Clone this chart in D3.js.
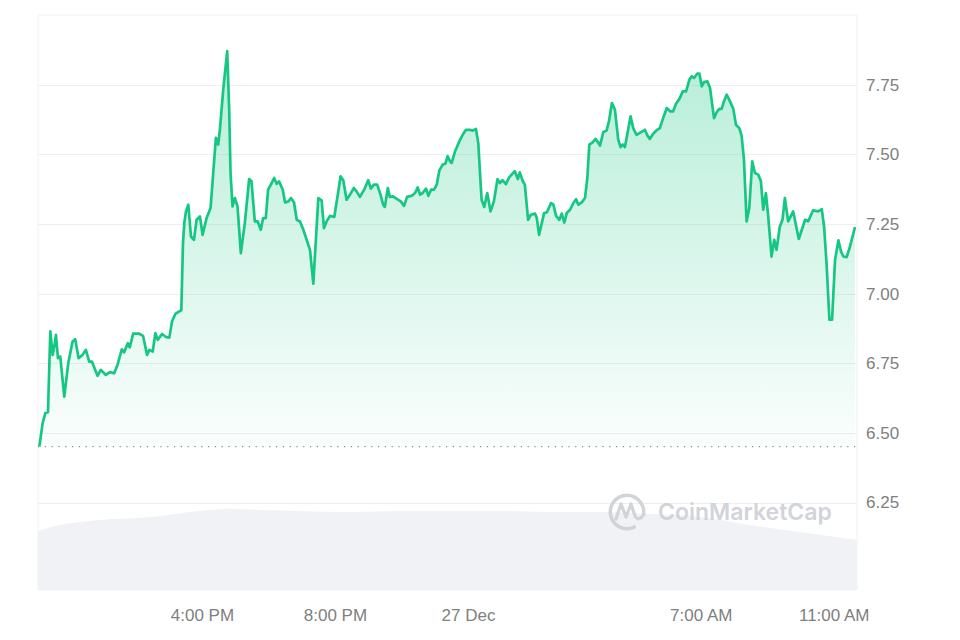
<!DOCTYPE html>
<html>
<head>
<meta charset="utf-8">
<script src="https://cdn.jsdelivr.net/npm/d3@7"></script>
<style>
  html, body { margin: 0; padding: 0; background: #fff; }
  #chart { width: 960px; height: 640px; }
</style>
</head>
<body>
<div id="chart"></div>
<script>
// hours after 26 Dec 00:00, and price in USD
const priceHours = [
    11.11, 11.21, 11.29, 11.37, 11.44, 11.51, 11.56, 11.61, 11.67, 11.74, 11.86, 11.98,
    12.11, 12.19, 12.29, 12.41, 12.51, 12.61, 12.69, 12.86, 12.96, 13.11, 13.23, 13.36,
    13.46, 13.59, 13.66, 13.77, 13.83, 13.93, 14.11, 14.23, 14.35, 14.42, 14.52, 14.60,
    14.67, 14.80, 14.92, 15.02, 15.10, 15.20, 15.32, 15.38, 15.43, 15.47, 15.52, 15.59,
    15.67, 15.76, 15.84, 15.94, 16.02, 16.14, 16.26, 16.34, 16.42, 16.49, 16.54, 16.64,
    16.76, 16.82, 16.86, 16.92, 16.99, 17.07, 17.17, 17.29, 17.42, 17.49, 17.59, 17.68,
    17.77, 17.84, 17.92, 17.99, 18.10, 18.17, 18.25, 18.32, 18.43, 18.50, 18.60, 18.68,
    18.77, 18.85, 18.95, 19.05, 19.15, 19.25, 19.35, 19.50, 19.60, 19.67, 19.75, 19.85,
    19.98, 20.07, 20.17, 20.25, 20.35, 20.45, 20.57, 20.65, 20.75, 20.88, 21.00, 21.08,
    21.17, 21.27, 21.37, 21.45, 21.50, 21.59, 21.65, 21.75, 21.87, 21.98, 22.08, 22.17,
    22.31, 22.41, 22.49, 22.56, 22.64, 22.74, 22.81, 22.89, 22.98, 23.06, 23.14, 23.24,
    23.32, 23.39, 23.46, 23.51, 23.61, 23.74, 23.86, 23.94, 24.06, 24.14, 24.24, 24.31,
    24.41, 24.49, 24.58, 24.68, 24.78, 24.89, 24.96, 25.04, 25.14, 25.24, 25.36, 25.41,
    25.50, 25.56, 25.65, 25.71, 25.81, 25.89, 26.02, 26.07, 26.14, 26.29, 26.37, 26.50,
    26.57, 26.65, 26.75, 26.82, 26.90, 26.97, 27.07, 27.17, 27.25, 27.32, 27.42, 27.52,
    27.59, 27.65, 27.75, 27.84, 27.92, 27.97, 28.07, 28.17, 28.24, 28.33, 28.42, 28.52,
    28.59, 28.65, 28.72, 28.80, 28.89, 28.97, 29.07, 29.17, 29.32, 29.40, 29.47, 29.57,
    29.69, 29.77, 29.87, 29.98, 30.08, 30.17, 30.26, 30.36, 30.46, 30.56, 30.66, 30.73,
    30.80, 30.90, 30.96, 31.03, 31.10, 31.20, 31.28, 31.40, 31.48, 31.56, 31.63, 31.70,
    31.78, 31.88, 31.98, 32.06, 32.16, 32.23, 32.30, 32.38, 32.46, 32.55, 32.63, 32.73,
    32.81, 32.88, 32.96, 33.03, 33.13, 33.21, 33.28, 33.38, 33.46, 33.53, 33.63, 33.78,
    33.95, 34.04, 34.14, 34.23, 34.38, 34.53, 34.64, 34.71, 34.79, 34.87, 34.95, 35.04,
    35.14, 35.22, 35.29, 35.39, 35.49, 35.64
];
const prices = [
    6.451, 6.535, 6.571, 6.574, 6.864, 6.780, 6.810, 6.852, 6.768, 6.774, 6.630, 6.750,
    6.828, 6.836, 6.768, 6.780, 6.798, 6.756, 6.756, 6.705, 6.726, 6.708, 6.718, 6.714,
    6.744, 6.800, 6.789, 6.822, 6.807, 6.856, 6.856, 6.848, 6.780, 6.798, 6.792, 6.858,
    6.834, 6.855, 6.844, 6.842, 6.900, 6.927, 6.936, 6.940, 7.180, 7.253, 7.295, 7.319,
    7.205, 7.193, 7.265, 7.277, 7.211, 7.271, 7.307, 7.433, 7.559, 7.535, 7.588, 7.732,
    7.870, 7.660, 7.433, 7.313, 7.343, 7.313, 7.145, 7.253, 7.411, 7.403, 7.259, 7.259,
    7.229, 7.271, 7.271, 7.373, 7.397, 7.415, 7.394, 7.403, 7.373, 7.327, 7.331, 7.343,
    7.327, 7.265, 7.259, 7.229, 7.193, 7.157, 7.036, 7.343, 7.335, 7.235, 7.259, 7.279,
    7.275, 7.343, 7.421, 7.407, 7.337, 7.355, 7.379, 7.367, 7.347, 7.373, 7.407, 7.377,
    7.391, 7.391, 7.355, 7.319, 7.311, 7.379, 7.347, 7.349, 7.339, 7.331, 7.315, 7.347,
    7.351, 7.361, 7.381, 7.355, 7.361, 7.377, 7.351, 7.373, 7.373, 7.391, 7.442, 7.463,
    7.466, 7.493, 7.475, 7.469, 7.510, 7.546, 7.574, 7.588, 7.588, 7.585, 7.591, 7.541,
    7.337, 7.311, 7.361, 7.295, 7.331, 7.411, 7.397, 7.407, 7.393, 7.417, 7.433, 7.439,
    7.411, 7.435, 7.403, 7.391, 7.265, 7.283, 7.287, 7.271, 7.211, 7.289, 7.291, 7.325,
    7.319, 7.279, 7.265, 7.287, 7.255, 7.289, 7.301, 7.325, 7.339, 7.319, 7.327, 7.343,
    7.415, 7.535, 7.543, 7.555, 7.541, 7.531, 7.579, 7.586, 7.618, 7.684, 7.660, 7.552,
    7.526, 7.535, 7.526, 7.577, 7.636, 7.594, 7.570, 7.577, 7.588, 7.567, 7.555, 7.574,
    7.588, 7.594, 7.630, 7.666, 7.654, 7.654, 7.682, 7.699, 7.726, 7.726, 7.768, 7.780,
    7.774, 7.790, 7.790, 7.744, 7.759, 7.762, 7.738, 7.630, 7.651, 7.663, 7.663, 7.690,
    7.714, 7.690, 7.663, 7.606, 7.594, 7.566, 7.481, 7.259, 7.307, 7.475, 7.433, 7.427,
    7.403, 7.301, 7.361, 7.277, 7.133, 7.193, 7.157, 7.241, 7.265, 7.343, 7.259, 7.295,
    7.196, 7.229, 7.265, 7.259, 7.299, 7.295, 7.303, 7.241, 7.097, 6.906, 6.906, 7.121,
    7.191, 7.151, 7.133, 7.131, 7.169, 7.239
];

// volume shading at the bottom (arbitrary units)
const volumeHours = [11.07, 11.73, 12.93, 14.44, 15.94, 16.84, 17.74, 18.95, 20.45, 21.95,
    23.46, 24.96, 26.47, 27.97, 29.47, 30.98, 32.48, 33.98, 35.70];
const volumes = [59, 65, 70, 73, 79, 81, 80, 79, 78, 79, 79, 79, 78, 78, 76, 73, 65, 58, 50];

const openPrice = 6.451;
const priceTicks = [6.25, 6.50, 6.75, 7.00, 7.25, 7.50, 7.75];
const timeTickHours = [16, 20, 24, 31, 35];
const timeTickLabels = ["4:00 PM", "8:00 PM", "27 Dec", "7:00 AM", "11:00 AM"];
const startHour = 11.07;
const endHour = 35.70;

const day0 = new Date(2023, 11, 26, 0, 0);
const toDate = h => new Date(day0.getTime() + h * 3600 * 1000);

function drawChart() {
    const width = 960, height = 640;
    const margin = { top: 15, right: 103, bottom: 50, left: 38 };
    const innerWidth = width - margin.left - margin.right;
    const innerHeight = height - margin.top - margin.bottom;

    const svg = d3.select("#chart")
        .append("svg")
        .attr("width", width)
        .attr("height", height);

    const g = svg.append("g")
        .attr("transform", `translate(${margin.left},${margin.top})`);

    const x = d3.scaleTime()
        .domain([toDate(startHour), toDate(endHour)])
        .range([0, innerWidth]);

    const y = d3.scaleLinear()
        .domain([5.936, 8.0])
        .range([innerHeight, 0]);

    const yVol = d3.scaleLinear()
        .domain([0, 90])
        .range([innerHeight, innerHeight - 90]);

    const data = priceHours.map((h, i) => ({ t: toDate(h), v: prices[i] }));
    const volData = volumeHours.map((h, i) => ({ t: toDate(h), v: volumes[i] }));

    // gradient for the price area
    const defs = svg.append("defs");
    const grad = defs.append("linearGradient")
        .attr("id", "priceFill")
        .attr("gradientUnits", "userSpaceOnUse")
        .attr("x1", 0).attr("x2", 0)
        .attr("y1", y(7.9)).attr("y2", y(openPrice));
    grad.append("stop").attr("offset", "0%").attr("stop-color", "#16c784").attr("stop-opacity", 0.32);
    grad.append("stop").attr("offset", "100%").attr("stop-color", "#16c784").attr("stop-opacity", 0.02);

    // frame
    g.append("rect")
        .attr("x", 0).attr("y", 0)
        .attr("width", innerWidth).attr("height", innerHeight)
        .attr("fill", "none")
        .attr("stroke", "#f1f1f1")
        .attr("stroke-width", 1);

    // volume
    g.append("path")
        .datum(volData)
        .attr("fill", "#f0f2f5")
        .attr("d", d3.area()
            .curve(d3.curveMonotoneX)
            .x(d => x(d.t))
            .y0(innerHeight)
            .y1(d => yVol(d.v)));

    // grid
    g.append("g")
        .selectAll("line")
        .data(priceTicks)
        .enter()
        .append("line")
            .attr("x1", 0)
            .attr("x2", innerWidth)
            .attr("y1", d => Math.round(y(d)) + 0.5)
            .attr("y2", d => Math.round(y(d)) + 0.5)
            .attr("stroke", "#efefef")
            .attr("stroke-width", 1);

    // watermark
    const wm = g.append("g")
        .attr("transform", `translate(${627 - margin.left},${512 - margin.top})`)
        .attr("opacity", 0.9);
    wm.append("path")
        .attr("d", d3.arc()({ innerRadius: 15, outerRadius: 18.5, startAngle: 2.6, endAngle: 2.6 + Math.PI * 1.75 }))
        .attr("fill", "#cdd0d5");
    wm.append("path")
        .attr("d", "M-11,7 L-6,-8 L-1,5 L4,-8 L8,4 Q10,9 15,5")
        .attr("fill", "none")
        .attr("stroke", "#cdd0d5")
        .attr("stroke-width", 3.2)
        .attr("stroke-linejoin", "round")
        .attr("stroke-linecap", "round");
    wm.append("text")
        .attr("x", 31)
        .attr("y", 8)
        .style("font-family", "Inter, 'Noto Sans', sans-serif")
        .style("font-weight", 600)
        .style("font-size", "23px")
        .style("fill", "#cdd0d5")
        .text("CoinMarketCap");

    // area under price, down to the opening price
    g.append("path")
        .datum(data)
        .attr("fill", "url(#priceFill)")
        .attr("d", d3.area()
            .x(d => x(d.t))
            .y0(y(openPrice))
            .y1(d => y(d.v)));

    // opening price dotted line
    g.append("line")
        .attr("x1", 0)
        .attr("x2", innerWidth)
        .attr("y1", y(openPrice))
        .attr("y2", y(openPrice))
        .attr("stroke", "#8a8a8a")
        .attr("stroke-width", 1.2)
        .style("stroke-dasharray", "1.2, 5.6");

    // price line
    g.append("path")
        .datum(data)
        .attr("fill", "none")
        .attr("stroke", "#16c784")
        .attr("stroke-width", 2.7)
        .attr("stroke-linejoin", "round")
        .attr("d", d3.line()
            .x(d => x(d.t))
            .y(d => y(d.v)));

    // right axis
    const yAxis = g.append("g")
        .attr("transform", `translate(${innerWidth},0)`)
        .call(d3.axisRight(y)
            .tickValues(priceTicks)
            .tickFormat(d3.format(".2f"))
            .tickSize(0)
            .tickPadding(9));
    yAxis.select(".domain").remove();

    // bottom axis
    const xAxis = g.append("g")
        .attr("transform", `translate(0,${innerHeight})`)
        .call(d3.axisBottom(x)
            .tickValues(timeTickHours.map(toDate))
            .tickFormat((d, i) => timeTickLabels[i])
            .tickSize(0)
            .tickPadding(19));
    xAxis.select(".domain").remove();

    svg.selectAll(".tick text")
        .style("font-family", "'Liberation Sans', Arial, sans-serif")
        .style("font-size", "17px")
        .style("fill", "#808080");
}

drawChart();
</script>
</body>
</html>
